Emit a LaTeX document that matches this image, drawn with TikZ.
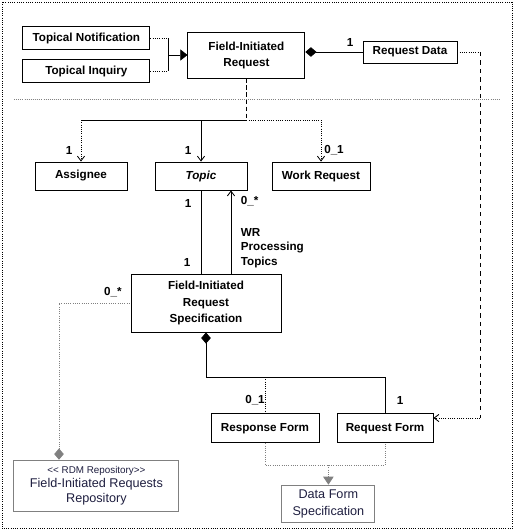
\documentclass[tikz,border=0pt]{standalone}
\usepackage{fontspec}
\setmainfont{Liberation Sans}
\usetikzlibrary{arrows.meta,positioning,calc}
\definecolor{repotext}{rgb}{0.12,0.12,0.25}
\tikzset{
  cls/.style={rectangle, draw=black, line width=0.6pt, fill=white, align=center,
    inner sep=1pt, font=\fontsize{8.3}{11.4}\selectfont\bfseries},
  extcls/.style={cls, draw=black!50, text=repotext, font=\fontsize{9}{10.8}\selectfont},
  mult/.style={font=\fontsize{8.3}{10}\selectfont\bfseries, inner sep=1pt},
  assoc/.style={line width=0.6pt, draw=black},
  dassoc/.style={assoc, densely dotted},
  greyln/.style={line width=0.6pt, draw=black!50, densely dotted},
  nav/.style={-{Straight Barb[length=1.2mm,width=1.8mm]}},
  owns/.style={{Diamond[length=2.8mm,width=2.4mm]}-},
  gen/.style={-{Triangle[length=1.8mm,width=2.8mm]}},
}
\begin{document}
\begin{tikzpicture}
  \useasboundingbox (0,0) rectangle (12.85,-13.275);
  \draw[densely dotted, line width=0.6pt] (0.05,-0.05) rectangle (12.8,-13.22);
  % top part
  \node[cls, minimum width=3.175cm, minimum height=0.575cm] (tnote) at (2.16,-0.96) {Topical Notification};
  \node[cls, minimum width=3.175cm, minimum height=0.575cm] (tinq) at (2.16,-1.775) {Topical Inquiry};
  \node[cls, minimum width=2.925cm, minimum height=1.15cm] (fir) at (6.16,-1.375) {Field-Initiated\\Request};
  \node[cls, minimum width=2.35cm, minimum height=0.55cm] (rdata) at (10.25,-1.3) {Request Data};
  \coordinate (gj) at (4.2,-1.375);
  \draw[dassoc] (tnote.east) -- (tnote.east -| gj);
  \draw[dassoc] (tinq.east) -- (tinq.east -| gj);
  \draw[assoc] (tnote.east -| gj) -- (tinq.east -| gj);
  \draw[assoc, gen] (gj) -- (fir.west);
  \draw[assoc, owns] (fir.east |- rdata.west) -- (rdata.west);
  \node[mult] at (8.75,-1.05) {1};
  \draw[black!50, densely dotted, line width=0.5pt] (0.35,-2.475) -- (12.5,-2.475);
  % associations of the request
  \node[cls, minimum width=2.3cm, minimum height=0.7cm] (assg) at (2.025,-4.4) {Assignee};
  \node[cls, minimum width=2.3cm, minimum height=0.7cm, font=\fontsize{8.3}{11.4}\selectfont\bfseries\itshape] (topic) at (5.025,-4.4) {Topic};
  \node[cls, minimum width=2.45cm, minimum height=0.7cm] (wreq) at (8.025,-4.4) {Work Request};
  \coordinate (fork) at (6.16,-3.0);
  \draw[assoc, densely dashed, line width=0.9pt] (fir.south) -- (fork);
  \draw[assoc, nav] (fork) -| (topic.north);
  \draw[assoc] (topic.north |- fork) -- (assg.north |- fork);
  \draw[dassoc, nav] (assg.north |- fork) -- (assg.north);
  \draw[dassoc, nav] (fork) -| (wreq.north);
  \node[mult] at (1.725,-3.75) {1};
  \node[mult] at (4.7,-3.75) {1};
  \node[mult] at (8.35,-3.75) {0\_1};
  % specification
  \node[cls, minimum width=3.75cm, minimum height=1.45cm] (firs) at (5.15,-7.575) {Field-Initiated\\Request\\Specification};
  \draw[assoc] (topic.south) -- (topic.south |- firs.north);
  \draw[assoc, nav] ([xshift=6.25mm]firs.north) -- ([xshift=6.25mm]firs.north |- topic.south);
  \node[mult] at (4.7,-5.075) {1};
  \node[mult] at (4.675,-6.55) {1};
  \node[mult, anchor=west] at (5.98,-5.025) {0\_*};
  \node[mult, anchor=west, align=left, font=\fontsize{8.3}{10.4}\selectfont\bfseries] at (5.98,-6.2) {WR\\Processing\\Topics};
  % repository
  \node[extcls, minimum width=4.125cm, minimum height=1.275cm, font=\fontsize{9}{10.5}\selectfont] (repo) at (2.41,-12.14)
    {{\fontsize{7}{8}\selectfont <\kern0pt< RDM Repository>\kern0pt>}\\Field-Initiated Requests\\Repository};
  \coordinate (rpbend) at (1.475,-7.575);
  \draw[greyln, owns] (rpbend |- repo.north) -- (rpbend) -- (firs.west);
  \node[mult] at (2.825,-7.3) {0\_*};
  % forms
  \node[cls, minimum width=2.7cm, minimum height=0.725cm] (respf) at (6.625,-10.71) {Response Form};
  \node[cls, minimum width=2.4cm, minimum height=0.725cm] (reqf) at (9.625,-10.71) {Request Form};
  \draw[assoc, owns] (firs.south) |- (reqf.north |- 0,-9.425) -- (reqf.north);
  \draw[dassoc] (respf.north |- 0,-9.425) -- (respf.north);
  \node[mult] at (6.375,-10.0) {0\_1};
  \node[mult] at (10.0,-10.0) {1};
  \coordinate (rdturn) at (12.0,-1.3);
  \coordinate (rfturn) at (12.0,-10.45);
  \draw[dassoc] (rdata.east) -- (rdturn);
  \draw[assoc, dashed] (rdturn) -- (rfturn);
  \draw[dassoc, nav] (rfturn) -- (rfturn -| reqf.east);
  % data form
  \node[extcls, minimum width=2.325cm, minimum height=0.925cm, font=\fontsize{9}{12}\selectfont] (dfs) at (8.21,-12.59) {Data Form\\Specification};
  \draw[greyln] (respf.south) |- (reqf.south |- 0,-11.625) -- (reqf.south);
  \draw[greyln, -{Triangle[length=2mm,width=2.6mm]}] (dfs.north |- 0,-11.625) -- (dfs.north);
\end{tikzpicture}
\end{document}
